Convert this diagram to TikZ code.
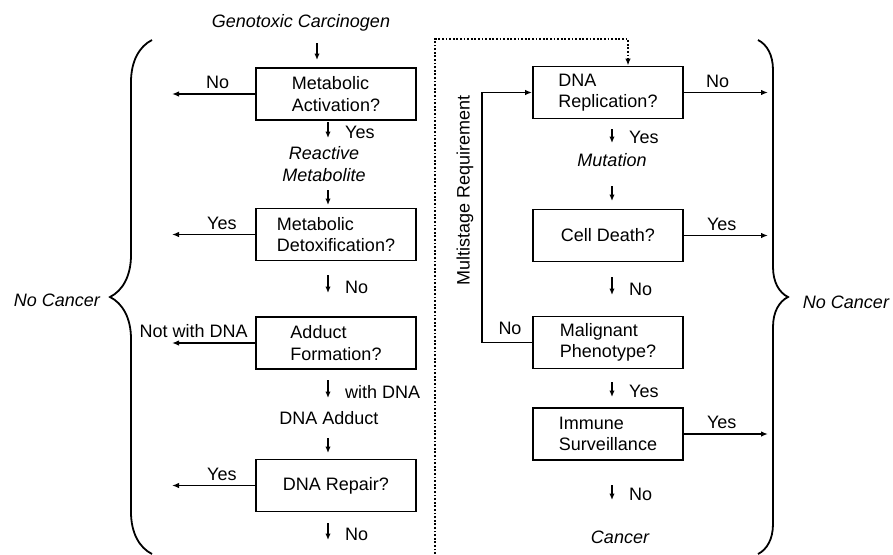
\documentclass[tikz,border=0pt]{standalone}
\usepackage{fontspec}
\setmainfont{Liberation Sans}
\usetikzlibrary{arrows.meta, decorations.pathreplacing}

\begin{document}
\begin{tikzpicture}[x=1pt, y=-1pt, font=\fontsize{18}{21.5}\selectfont,
    box/.style={draw, line width=1.9pt, minimum width=160pt, minimum height=52pt, align=left},
    rbox/.style={box, minimum width=150pt},
    it/.style={font=\fontsize{18}{21.5}\selectfont\itshape},
    arr/.style={line width=1.7pt, -{Latex[length=7pt, width=5.5pt]}},
    tip/.style={line width=1.7pt, -{Latex[length=6.5pt, width=5.5pt]}},
    lbl/.style={inner sep=0pt, anchor=west},
    brace/.style={line width=1.8pt, decorate, decoration={brace, amplitude=#1}}]
    \useasboundingbox (0, 0) rectangle (893, 554);

    % left column
    \node[it] (g) at (301, 23) {Genotoxic Carcinogen};
    \node[box] (0) at (336, 94) {Metabolic\\Activation?};
    \node[it, align=center] (rm) at (324, 164) {Reactive\\Metabolite};
    \node[box] (1) at (336, 234.5) {Metabolic\\Detoxification?};
    \node[box] (2) at (336, 343) {Adduct\\Formation?};
    \node (da) at (329, 418) {DNA Adduct};
    \node[box] (3) at (336, 485.5) {DNA Repair?};

    % right column
    \node[rbox] (4) at (608, 92.5) {DNA\\Replication?};
    \node[it] (mu) at (612, 160) {Mutation};
    \node[rbox] (5) at (608, 235.5) {Cell Death?};
    \node[rbox] (6) at (608, 342.5) {Malignant\\Phenotype?};
    \node[rbox] (7) at (608, 434) {Immune\\Surveillance};
    \node[it] (ca) at (620, 537) {Cancer};

    % outcomes
    \node[it] (nl) at (57, 300) {No Cancer};
    \node[it] (nr) at (846, 302) {No Cancer};
    \draw[brace=42pt] (152, 554) -- (152, 40);
    \draw[brace=30pt] (758, 40) -- (758, 554);

    % short downward arrows
    \foreach \x/\ya/\yb/\t [count=\i] in {317/43/60/, 328/122/138/Yes, 328/190/205/,
        328/275/293/No, 328/380/398/with DNA, 328/438/453/, 328/523/540/No,
        612/129/143/Yes, 612/186/201/, 612/277/295/No, 612/382/397/Yes, 612/485/500/No}{
        \coordinate (s\i) at (\x, \ya);
        \coordinate (e\i) at (\x, \yb);
        \draw[tip] (s\i) -- (e\i);
        \node[lbl] (t\i) at (\x+17, \yb-6) {\t};
    }

    % exits to the braces
    \coordinate (l) at (172, 0);
    \coordinate (r) at (768, 0);
    \draw[arr] (0.west) -- (0.west -| l) node[pos=0.45, above=1pt] (n0) {No};
    \draw[arr] (1.west) -- (1.west -| l) node[pos=0.4, above=1pt] (n1) {Yes};
    \draw[arr] (2.west) -- (2.west -| l) node[pos=0.74, above=1pt] (n2) {Not with DNA};
    \draw[arr] (3.west) -- (3.west -| l) node[pos=0.4, above=1pt] (n3) {Yes};
    \draw[arr] (4.east) -- (4.east -| r) node[pos=0.4, above=1pt] (n4) {No};
    \draw[arr] (5.east) -- (5.east -| r) node[pos=0.45, above=1pt] (n5) {Yes};
    \draw[arr] (7.east) -- (7.east -| r) node[pos=0.45, above=1pt] (n7) {Yes};

    % multistage loop
    \coordinate (10) at (482, 200);
    \draw[arr] (6.west) -| (10) |- (4.west);
    \node (n6) at (510, 328) {No};
    \node[rotate=90] (ms) at (465, 190) {Multistage Requirement};

    % dotted divider
    \coordinate (8) at (435, 554);
    \coordinate (9) at (628, 39);
    \draw[line width=1.7pt, dash pattern=on 1.8pt off 1.8pt, -{Latex[length=7pt, width=5.5pt]}]
        (8) |- (9) -- (9 |- 4.north);
\end{tikzpicture}
\end{document}
